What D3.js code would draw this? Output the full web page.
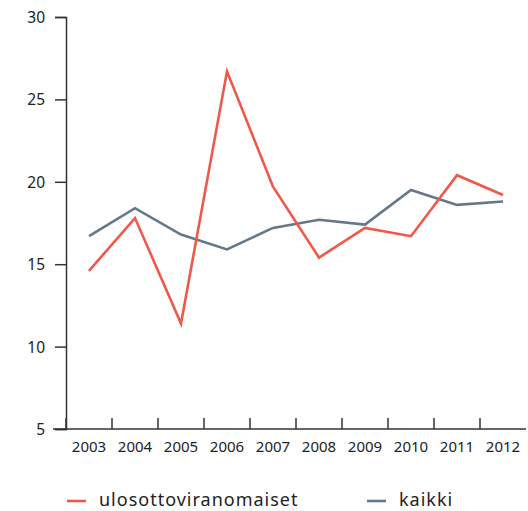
<!DOCTYPE html>
<html lang="fi">
  <head>
    <meta charset="utf-8">
    <title>ulosottoviranomaiset ja kaikki</title>
    <script src="https://d3js.org/d3.v7.js"></script>
    <style>
      body {margin: 0; background: white;}
      text {font-family: "Noto Sans", sans-serif; fill: #222;}
    </style>
  </head>
  <body>
  <script>

  // data
  var years = ["2003","2004","2005","2006","2007","2008","2009","2010","2011","2012"];
  var ulosotto = [14.6, 17.8, 11.4, 26.7, 19.7, 15.4, 17.2, 16.7, 20.4, 19.2];
  var kaikki = [16.7, 18.4, 16.8, 15.9, 17.2, 17.7, 17.4, 19.5, 18.6, 18.8];
  var yTicks = [5, 10, 15, 20, 25, 30];
  var seriesNames = ["ulosottoviranomaiset", "kaikki"];
  var colors = ["#f0584a", "#64788a"];

  var w = 528;
  var h = 511;
  var margin = {top: 17, right: 2, bottom: 82, left: 66};

  var svg = d3.select("body")
    .append("svg")
      .attr("width", w)
      .attr("height", h);

  var xScale = d3.scaleBand()
      .domain(years)
      .range([margin.left, w - margin.right]);

  var yScale = d3.scaleLinear()
      .domain([5, 30])
      .range([h - margin.bottom, margin.top]);

  //y axis
  var yAxis = d3.axisLeft(yScale)
      .tickValues(yTicks)
      .tickSize(11)
      .tickPadding(10);
  var gy = svg.append("g")
      .attr("transform", `translate(${margin.left},0)`)
      .call(yAxis);
  gy.select(".domain").attr("stroke", "#333").attr("stroke-width", 1.5);
  gy.selectAll(".tick line").attr("stroke", "#333").attr("stroke-width", 1.5);
  gy.selectAll(".tick text").style("font-size", "15.5px").attr("dy", "0.35em");

  //x axis
  var xAxis = d3.axisBottom(xScale)
      .tickSize(0)
      .tickPadding(12);
  var gx = svg.append("g")
      .attr("transform", `translate(0,${h - margin.bottom})`)
      .call(xAxis);
  gx.select(".domain").remove();
  gx.selectAll(".tick text").style("font-size", "15px");

  // baseline and band boundary ticks
  svg.append("line")
      .attr("x1", margin.left - 13)
      .attr("x2", w - margin.right)
      .attr("y1", yScale(5))
      .attr("y2", yScale(5))
      .attr("stroke", "#333")
      .attr("stroke-width", 1.5);
  svg.selectAll(".band-tick")
      .data(years)
      .join("line")
      .attr("class", "band-tick")
      .attr("x1", d => xScale(d))
      .attr("x2", d => xScale(d))
      .attr("y1", yScale(5))
      .attr("y2", yScale(5) - 11)
      .attr("stroke", "#333")
      .attr("stroke-width", 1.5);

  //lines
  var line = d3.line()
      .x((d, i) => xScale(years[i]) + xScale.bandwidth() / 2)
      .y(d => yScale(d));

  [kaikki, ulosotto].forEach(function(vals, k) {
    svg.append("path")
        .datum(vals)
        .attr("fill", "none")
        .attr("stroke", k == 0 ? colors[1] : colors[0])
        .attr("stroke-width", 2.6)
        .attr("stroke-linejoin", "miter")
        .attr("d", line);
  });

  //legend
  var legendX = [67, 367];
  var legend = svg.selectAll(".legend")
      .data(seriesNames)
      .join("g")
      .attr("class", "legend")
      .attr("transform", (d, i) => `translate(${legendX[i]},501)`);
  legend.append("line")
      .attr("x1", 0)
      .attr("x2", 19)
      .attr("stroke", (d, i) => colors[i])
      .attr("stroke-width", 2.6);
  legend.append("text")
      .attr("x", 32)
      .attr("y", 5)
      .style("font-size", "18px")
      .style("letter-spacing", "1px")
      .text(d => d);

  </script>
  </body>
</html>
